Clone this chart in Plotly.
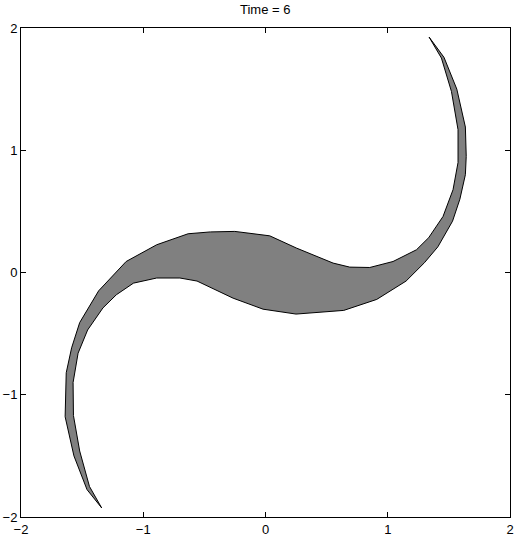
import plotly.graph_objects as go

# outline of the patch at t = 6, traced counter-clockwise from the upper tip
patch_x = [1.338, 1.46, 1.565, 1.635, 1.642, 1.635, 1.59, 1.53, 1.41, 1.30, 1.15,
           0.91, 0.64, 0.25, -0.02, -0.265, -0.56, -0.70, -0.89, -1.08, -1.22, -1.33,
           -1.455, -1.533, -1.574, -1.571, -1.52, -1.44, -1.34,
           -1.46, -1.567, -1.639, -1.63, -1.586, -1.52, -1.365, -1.14, -0.89, -0.633,
           -0.45, -0.251, 0.035, 0.253, 0.553, 0.689, 0.853, 1.043, 1.235, 1.335,
           1.452, 1.534, 1.575, 1.575, 1.521, 1.439, 1.338]
patch_y = [1.926, 1.76, 1.50, 1.19, 0.95, 0.80, 0.60, 0.42, 0.21, 0.08, -0.07,
           -0.22, -0.31, -0.34, -0.30, -0.21, -0.07, -0.045, -0.045, -0.087, -0.182, -0.29,
           -0.47, -0.66, -0.90, -1.17, -1.46, -1.75, -1.926,
           -1.776, -1.50, -1.18, -0.82, -0.616, -0.41, -0.15, 0.09, 0.227, 0.317,
           0.332, 0.336, 0.30, 0.20, 0.077, 0.044, 0.041, 0.09, 0.186, 0.285,
           0.458, 0.677, 0.90, 1.168, 1.481, 1.754, 1.926]

ticks = [-2, -1, 0, 1, 2]

fig = go.Figure(go.Scatter(x=patch_x, y=patch_y, mode="lines", fill="toself",
                           fillcolor="#808080", line=dict(color="black", width=1),
                           hoverinfo="skip", showlegend=False))

axis = dict(range=[-2, 2], tickvals=ticks, ticks="inside", ticklen=5, tickcolor="black",
            showline=True, linecolor="black", linewidth=1, mirror="ticks",
            showgrid=False, zeroline=False, tickfont=dict(size=13, color="black"))

fig.update_layout(width=520, height=538, margin=dict(l=21, r=10, t=28, b=21),
                  plot_bgcolor="white", paper_bgcolor="white",
                  font=dict(family="Liberation Sans, Arial, sans-serif", color="black"),
                  title=dict(text="Time = 6", x=0.51, xanchor="center", y=0.982,
                             yanchor="middle", font=dict(size=13)),
                  xaxis=dict(axis, automargin=False),
                  yaxis=dict(axis, automargin=False))

# page has a default 8px body margin; drop it so the figure fills the window
fig.write_html("out.html", config={"displayModeBar": False},
               post_script="document.body.style.margin='0';")
